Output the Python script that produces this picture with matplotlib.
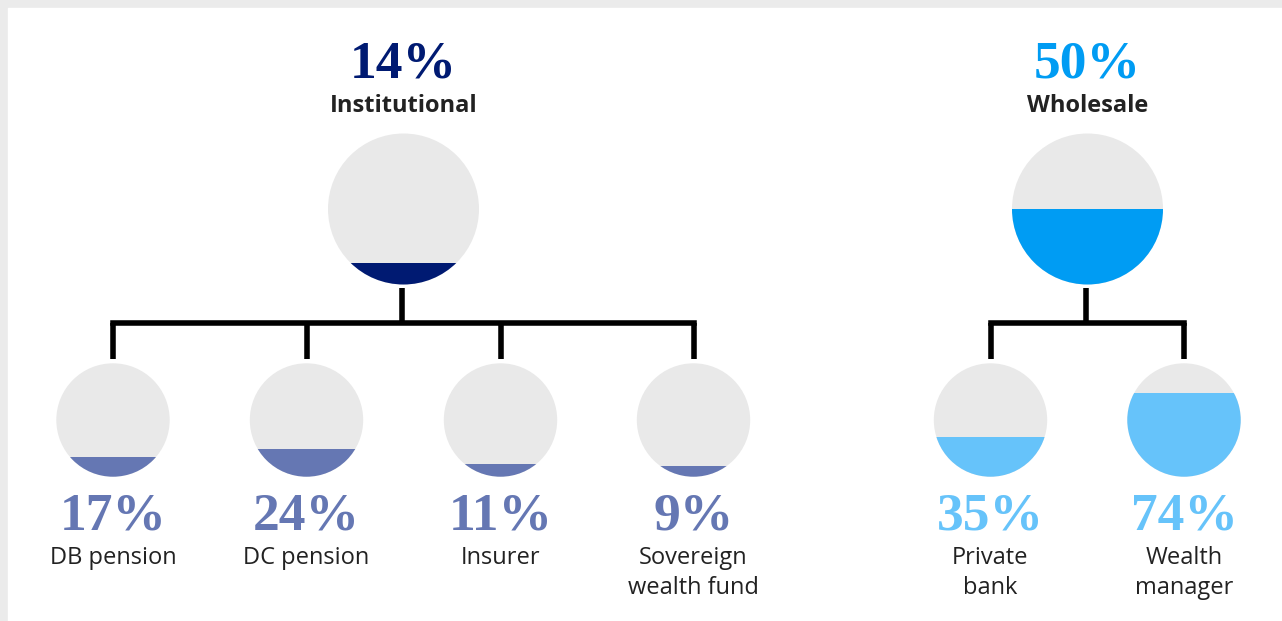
import matplotlib
matplotlib.use("Agg")
import matplotlib.pyplot as plt
from matplotlib.patches import Circle, Rectangle

# ---- data ----
group_names = ["Institutional", "Wholesale"]
group_values = [14, 50]
inst_labels = ["DB pension", "DC pension", "Insurer", "Sovereign\nwealth fund"]
inst_values = [17, 24, 11, 9]
whole_labels = ["Private\nbank", "Wealth\nmanager"]
whole_values = [35, 74]

# ---- style ----
GREY = "#e9e9e9"
FRAME = "#ebebeb"
NAVY = "#001a72"
MID = "#6577b3"
BLUE = "#009cf3"
LIGHT = "#66c3fa"
TXT = "#222222"

W, H = 1282, 621
fig = plt.figure(figsize=(W / 100, H / 100), dpi=100)
ax = fig.add_axes([0, 0, 1, 1])
ax.set_xlim(0, W)
ax.set_ylim(H, 0)
ax.axis("off")

ax.add_patch(Rectangle((0, 0), W, H, color=FRAME, zorder=0))
ax.add_patch(Rectangle((8, 8), W - 8, H - 8, color="white", zorder=0.5))

SERIF = "Liberation Serif"
SANS = "Open Sans"


def fill_circle(cx, cy, r, v, color):
    c = Circle((cx, cy), r, color=GREY, zorder=2, lw=0)
    ax.add_patch(c)
    h = 2 * r * v / 100.0
    rect = Rectangle((cx - r, cy + r - h), 2 * r, h, color=color, zorder=3, lw=0)
    ax.add_patch(rect)
    clip = Circle((cx, cy), r, transform=ax.transData)
    rect.set_clip_path(clip)


def tree(parent_x, parent_bottom, child_xs, bar_y, child_top, lw=4.0):
    ax.plot([parent_x, parent_x], [parent_bottom, bar_y], color="black", lw=lw,
            solid_capstyle="butt", zorder=1)
    ax.plot([child_xs[0], child_xs[-1]], [bar_y, bar_y], color="black", lw=lw,
            solid_capstyle="projecting", zorder=1)
    for x in child_xs:
        ax.plot([x, x], [bar_y, child_top], color="black", lw=lw,
                solid_capstyle="butt", zorder=1)


groups = [
    dict(cx=403.5, color=NAVY, small_color=MID, xs=[113, 306.5, 500.5, 693.5],
         labels=inst_labels, values=inst_values),
    dict(cx=1087.5, color=BLUE, small_color=LIGHT, xs=[990.5, 1184],
         labels=whole_labels, values=whole_values),
]

BIG_R, BIG_CY = 75.5, 209
SM_R, SM_CY = 56.7, 420
BAR_Y = 323

for gi, g in enumerate(groups):
    ax.text(g["cx"], 78, f"{group_values[gi]}%", ha="center", va="baseline",
            fontsize=38.5, fontfamily=SERIF, fontweight="bold", color=g["color"], zorder=5)
    ax.text(g["cx"], 112, group_names[gi], ha="center", va="baseline",
            fontsize=17, fontfamily=SANS, fontweight="bold", color=TXT, zorder=5)
    fill_circle(g["cx"], BIG_CY, BIG_R, group_values[gi], g["color"])
    tree(g["cx"] - 2, BIG_CY + BIG_R + 3, g["xs"], BAR_Y, SM_CY - SM_R - 4)
    for x, lab, v in zip(g["xs"], g["labels"], g["values"]):
        fill_circle(x, SM_CY, SM_R, v, g["small_color"])
        ax.text(x, 530, f"{v}%", ha="center", va="baseline",
                fontsize=38.5, fontfamily=SERIF, fontweight="bold",
                color=g["small_color"], zorder=5)
        for li, line in enumerate(lab.split("\n")):
            ax.text(x, 564 + 29.5 * li, line, ha="center", va="baseline",
                    fontsize=17, fontfamily=SANS, color=TXT, zorder=5)

fig.savefig("out.png", dpi=100)
